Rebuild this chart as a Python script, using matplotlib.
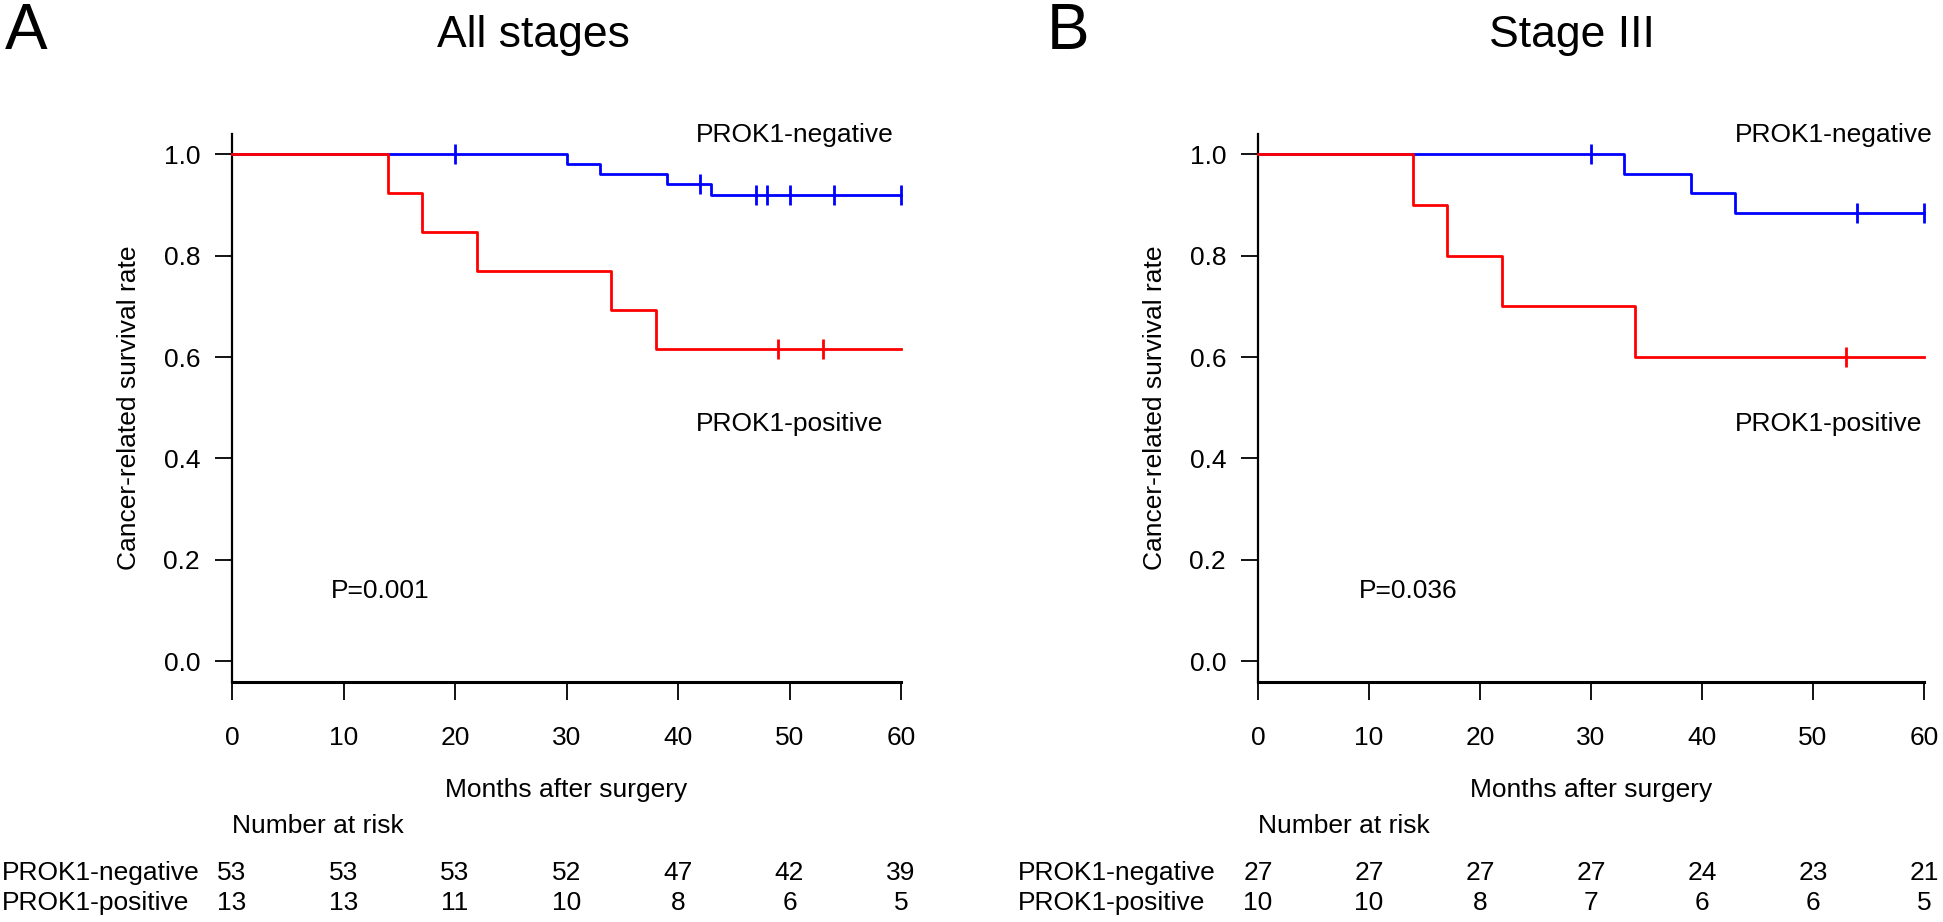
import matplotlib
matplotlib.use("Agg")
import matplotlib.pyplot as plt
from matplotlib.transforms import blended_transform_factory

plt.rcParams['font.family'] = ['Liberation Sans', 'DejaVu Sans']

# 全部病期 (A)
a_neg_times = [0, 30, 33, 39, 43]
a_neg_surv = [1.0, 0.981, 0.962, 0.942, 0.920]
a_neg_cens = [20, 42, 47, 48, 50, 54, 60]
a_pos_times = [0, 14, 17, 22, 34, 38]
a_pos_surv = [1.0, 0.923, 0.846, 0.769, 0.692, 0.615]
a_pos_cens = [49, 53]
a_risk_neg = [53, 53, 53, 52, 47, 42, 39]
a_risk_pos = [13, 13, 11, 10, 8, 6, 5]

# Stage III (B)
b_neg_times = [0, 33, 39, 43]
b_neg_surv = [1.0, 0.962, 0.923, 0.885]
b_neg_cens = [30, 54, 60]
b_pos_times = [0, 14, 17, 22, 34]
b_pos_surv = [1.0, 0.9, 0.8, 0.7, 0.6]
b_pos_cens = [53]
b_risk_neg = [27, 27, 27, 27, 24, 23, 21]
b_risk_pos = [10, 10, 8, 7, 6, 6, 5]

risk_times = [0, 10, 20, 30, 40, 50, 60]
p_values = ["P=0.001", "P=0.036"]
titles = ["All stages", "Stage III"]
letters = ["A", "B"]

W, H = 1943, 922
FS = 19
fig = plt.figure(figsize=(W / 100, H / 100), dpi=100)


def surv_at(times, surv, t):
    s = surv[0]
    for ti, si in zip(times, surv):
        if ti <= t:
            s = si
    return s


def km_line(ax, times, surv, cens, color):
    xs = list(times) + [60]
    ys = list(surv) + [surv[-1]]
    ax.step(xs, ys, where='post', color=color, lw=2.0, clip_on=False, zorder=3)
    cy = [surv_at(times, surv, c) for c in cens]
    ax.plot(cens, cy, ls='none', marker='|', ms=14, mew=2.0, color=color,
            clip_on=False, zorder=4)


def fy(px):
    return 1 - px / H


def panel(left_px, right_px, neg, pos, risk_neg, risk_pos, pval, title, letter,
          title_x, letter_x, row_x, lab_x, p_x):
    top_px, bot_px = 134, 681.5
    ax = fig.add_axes([left_px / W, fy(bot_px), (right_px - left_px) / W,
                       (bot_px - top_px) / H])
    # blue first, red drawn on top
    km_line(ax, *neg, color='#0000FF')
    km_line(ax, *pos, color='#FF0000')
    ax.set_xlim(0, 60)
    ax.set_ylim(-0.04, 1.04)
    ax.spines['top'].set_visible(False)
    ax.spines['right'].set_visible(False)
    ax.spines['left'].set_linewidth(1.6)
    ax.spines['bottom'].set_linewidth(2.2)
    ax.set_xticks(risk_times)
    ax.set_yticks([0, 0.2, 0.4, 0.6, 0.8, 1.0])
    ax.set_yticklabels(["0.0", "0.2", "0.4", "0.6", "0.8", "1.0"])
    ax.tick_params(axis='x', length=13, width=1.3, pad=19, labelsize=FS,
                   direction='out')
    ax.tick_params(axis='y', length=12, width=1.3, pad=11, labelsize=FS,
                   direction='out')
    ax.patch.set_visible(False)

    tr = blended_transform_factory(ax.transData, fig.transFigure)
    ax.text(30, fy(797), "Months after surgery", transform=tr,
            ha='center', va='baseline', fontsize=FS)
    ax.text(-0.154, 0.5, "Cancer-related survival rate", transform=ax.transAxes,
            rotation=90, ha='center', va='center', fontsize=FS)

    ax.text(lab_x, 1.0235, "PROK1-negative", ha='left', va='baseline',
            fontsize=FS, clip_on=False)
    ax.text(lab_x, 0.455, "PROK1-positive", ha='left', va='baseline', fontsize=FS)
    ax.text(p_x, 0.125, pval, ha='left', va='baseline', fontsize=FS)

    for t, n1, n2 in zip(risk_times, risk_neg, risk_pos):
        ax.text(t, fy(880), str(n1), transform=tr, ha='center', va='baseline',
                fontsize=FS)
        ax.text(t, fy(910), str(n2), transform=tr, ha='center', va='baseline',
                fontsize=FS)
    ax.text(0, fy(833), "Number at risk", transform=tr, ha='left',
            va='baseline', fontsize=FS)
    fig.text(row_x / W, fy(880), "PROK1-negative", ha='left', va='baseline',
             fontsize=FS)
    fig.text(row_x / W, fy(910), "PROK1-positive", ha='left', va='baseline',
             fontsize=FS)

    fig.text(title_x / W, fy(46.5), title, ha='center', va='baseline', fontsize=32)
    fig.text(letter_x / W, fy(49), letter, ha='left', va='baseline', fontsize=46)
    return ax


panel(232, 901, (a_neg_times, a_neg_surv, a_neg_cens),
      (a_pos_times, a_pos_surv, a_pos_cens), a_risk_neg, a_risk_pos,
      p_values[0], titles[0], letters[0], 533, 5, 2, 41.6, 8.9)
panel(1258, 1924, (b_neg_times, b_neg_surv, b_neg_cens),
      (b_pos_times, b_pos_surv, b_pos_cens), b_risk_neg, b_risk_pos,
      p_values[1], titles[1], letters[1], 1572, 1047, 1018, 43.0, 9.1)

fig.savefig("out.png", dpi=100)
